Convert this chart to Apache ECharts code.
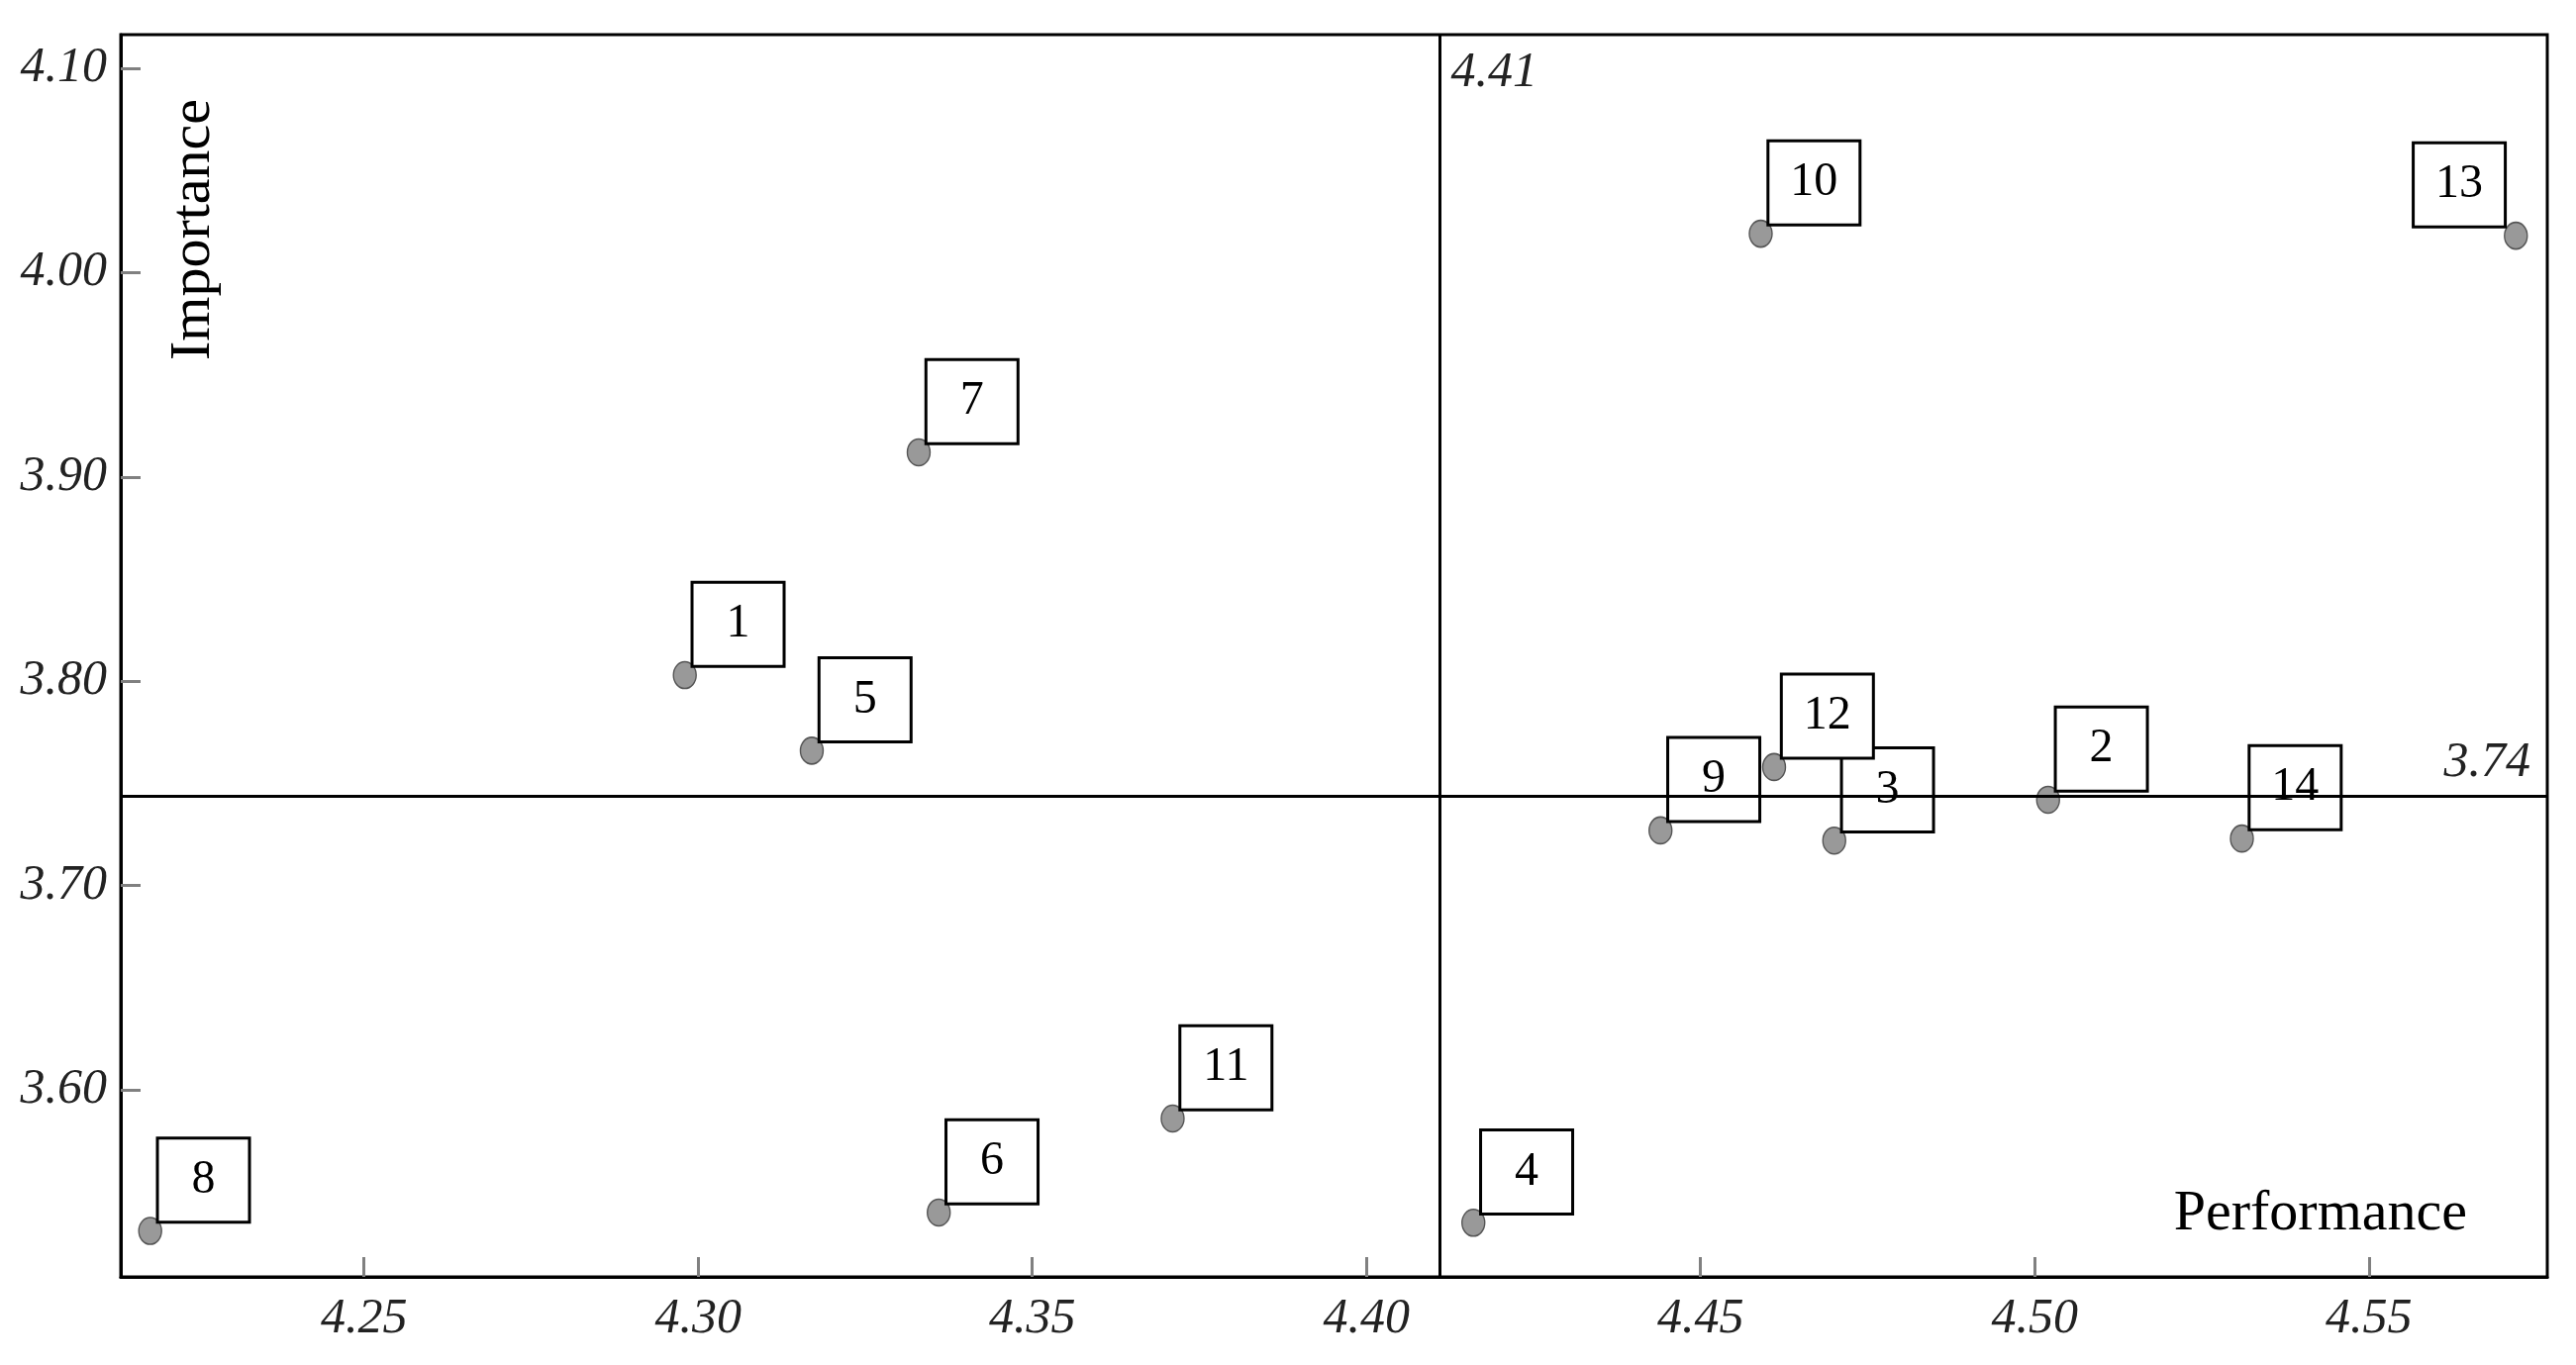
<!DOCTYPE html>
<html>
<head>
<meta charset="utf-8">
<title>Importance-Performance</title>
<script src="https://cdn.jsdelivr.net/npm/echarts@6/dist/echarts.min.js"></script>
<style>
  html, body { margin: 0; padding: 0; background: #fff; }
  #chart { width: 2602px; height: 1379px; }
</style>
</head>
<body>
<div id="chart"></div>
<script>
// attribute numbers and their (performance, importance) means
const itemIds = [1, 2, 3, 4, 5, 6, 7, 8, 9, 10, 11, 12, 13, 14];
const performance = [4.298, 4.502, 4.470, 4.416, 4.317, 4.336, 4.333, 4.218, 4.444, 4.459, 4.371, 4.461, 4.572, 4.531];
const importance = [3.803, 3.742, 3.722, 3.535, 3.766, 3.540, 3.912, 3.531, 3.727, 4.019, 3.586, 3.758, 4.018, 3.723];

// crosshair (grand means)
const meanPerformance = 4.411;
const meanImportance = 3.744;

// visible axis range
const xRange = [4.2136, 4.5767];
const yRange = [3.5085, 4.1164];

const leftBoxIds = [13]; // label box drawn on the left of the dot

const serif = "'Liberation Serif', 'DejaVu Serif', serif";

const chart = echarts.init(document.getElementById("chart"));

const boxLabel = {
  show: true,
  formatter: "{b}",
  color: "#000",
  fontFamily: serif,
  fontSize: 48,
  backgroundColor: "#fff",
  borderColor: "#000",
  borderWidth: 3,
  padding: 0,
  width: 90,
  height: 82,
  lineHeight: 82,
  align: "center",
  verticalAlign: "middle"
};

const points = itemIds.map(function(id, i) {
  const left = leftBoxIds.indexOf(id) >= 0;
  return {
    name: String(id),
    value: [performance[i], importance[i]],
    label: { position: left ? [-45, -37] : [66, -37] }
  };
});

const option = {
  backgroundColor: "#fff",
  animation: false,
  grid: {
    left: 122,
    right: 29,
    top: 35,
    bottom: 89,
    show: true,
    borderColor: "#000",
    borderWidth: 3,
    backgroundColor: "transparent"
  },
  xAxis: {
    type: "value",
    min: xRange[0],
    max: xRange[1],
    splitNumber: 7,
    axisLine: { show: true, lineStyle: { color: "#000", width: 3 } },
    axisTick: { show: true, inside: true, length: 20, lineStyle: { color: "#808080", width: 3 } },
    axisLabel: {
      margin: 18,
      color: "#222",
      fontFamily: serif,
      fontStyle: "italic",
      fontSize: 50,
      showMinLabel: false,
      showMaxLabel: false,
      formatter: function(v) { return v.toFixed(2); }
    },
    splitLine: { show: false }
  },
  yAxis: {
    type: "value",
    min: yRange[0],
    max: yRange[1],
    splitNumber: 6,
    axisLine: { show: true, lineStyle: { color: "#000", width: 3 } },
    axisTick: { show: true, inside: true, length: 20, lineStyle: { color: "#808080", width: 3 } },
    axisLabel: {
      margin: 14,
      color: "#222",
      fontFamily: serif,
      fontStyle: "italic",
      fontSize: 50,
      showMinLabel: false,
      showMaxLabel: false,
      formatter: function(v) { return v.toFixed(2); }
    },
    splitLine: { show: false }
  },
  series: [
    {
      // quadrant lines and their values
      name: "means",
      type: "scatter",
      z: 1,
      data: [],
      markLine: {
        silent: true,
        precision: 4,
        symbol: ["none", "none"],
        lineStyle: { color: "#000", width: 3, type: "solid", opacity: 1 },
        label: { show: false },
        data: [{ xAxis: meanPerformance }, { yAxis: meanImportance }]
      },
      markPoint: {
        symbol: "circle",
        symbolSize: 0,
        label: {
          show: true,
          color: "#222",
          fontFamily: serif,
          fontStyle: "italic",
          fontSize: 50
        },
        data: [
          {
            coord: [meanPerformance, yRange[1]],
            label: { formatter: meanPerformance.toFixed(2), position: [11, 14], align: "left", verticalAlign: "top" }
          },
          {
            coord: [xRange[1], meanImportance],
            label: { formatter: meanImportance.toFixed(2), position: [-17, -8], align: "right", verticalAlign: "bottom" }
          }
        ]
      }
    },
    {
      name: "items",
      type: "scatter",
      z: 3,
      symbol: "circle",
      symbolSize: [23, 27],
      itemStyle: { color: "#999", borderColor: "#555", borderWidth: 1.5, opacity: 1 },
      label: boxLabel,
      data: points
    }
  ],
  graphic: [
    {
      type: "text",
      x: 196,
      y: 364,
      rotation: Math.PI / 2,
      style: {
        text: "Importance",
        fill: "#000",
        font: "58px " + serif,
        textAlign: "left",
        textVerticalAlign: "middle"
      }
    },
    {
      type: "text",
      x: 2492,
      y: 1227,
      style: {
        text: "Performance",
        fill: "#000",
        font: "58px " + serif,
        textAlign: "right",
        textVerticalAlign: "middle"
      }
    }
  ]
};

chart.setOption(option);
</script>
</body>
</html>
